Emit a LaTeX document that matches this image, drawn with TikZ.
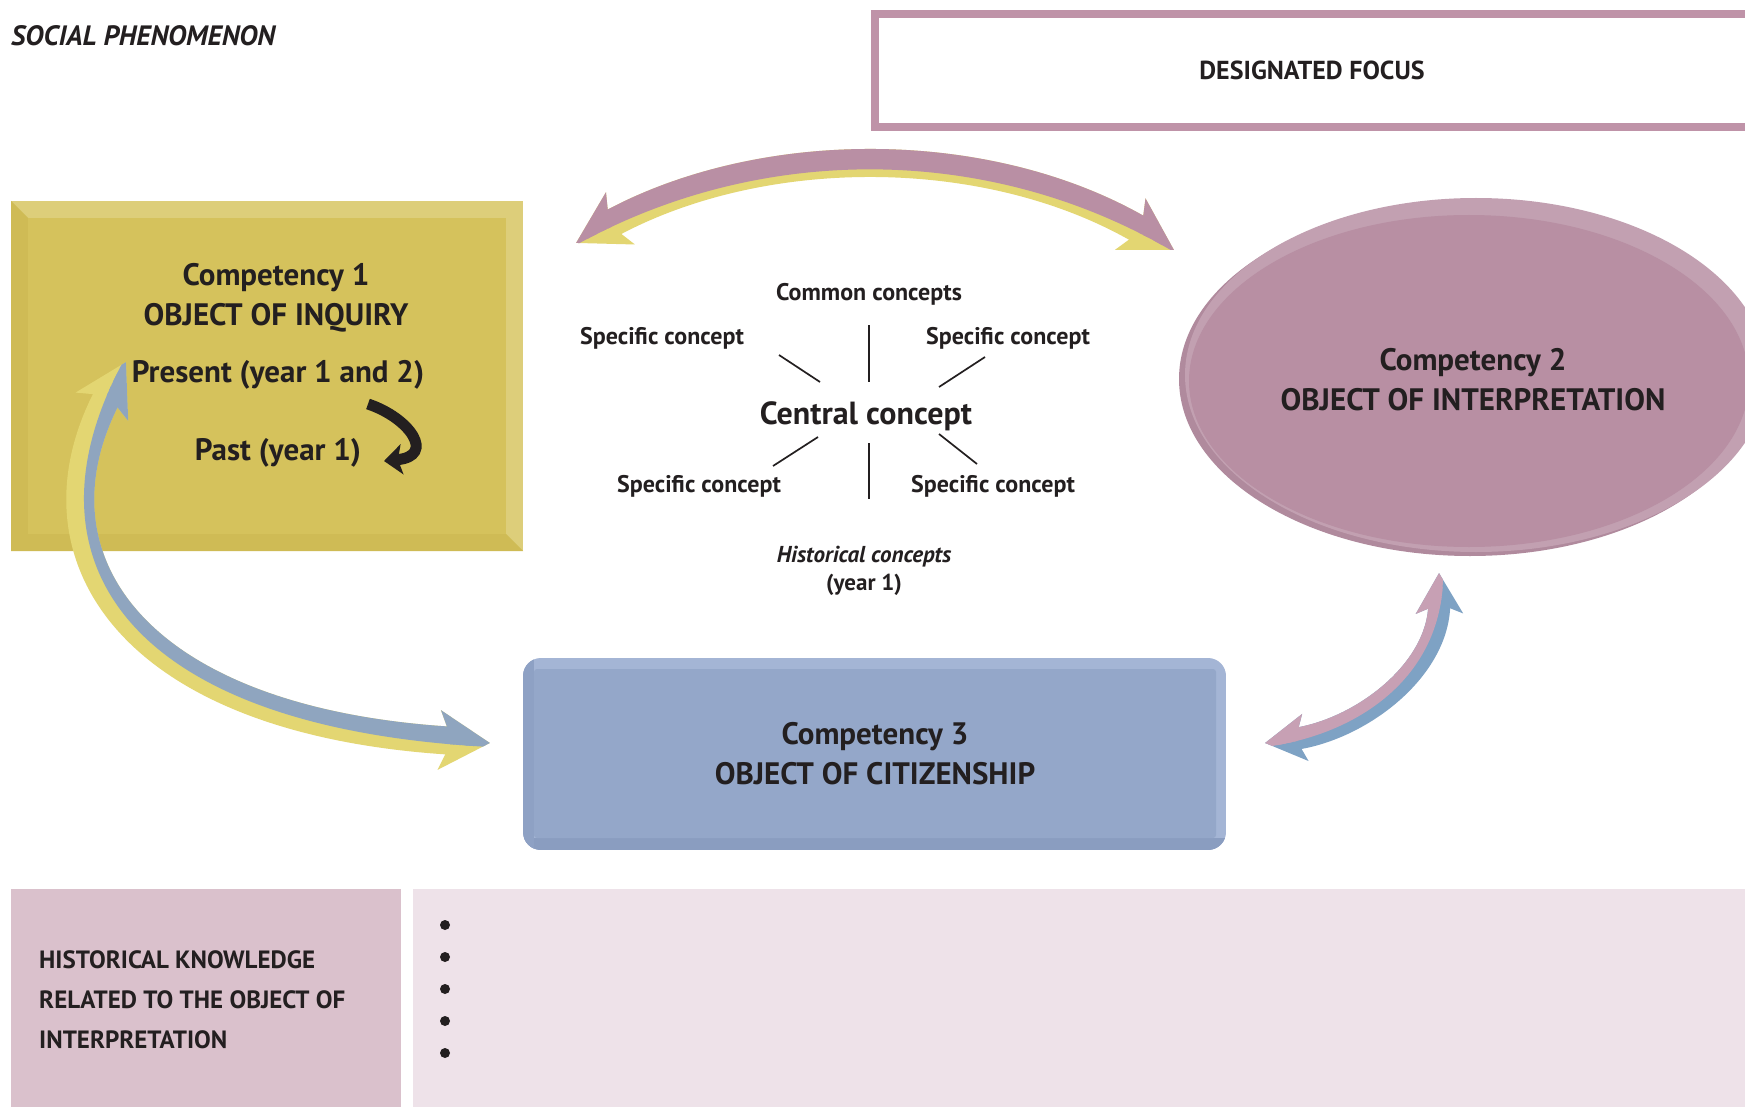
\documentclass[tikz,border=0pt]{standalone}
\usepackage{fontspec}
\setmainfont{PT Sans}
\usetikzlibrary{arrows.meta,calc}
\definecolor{ink}{HTML}{231F20}
\definecolor{yelMain}{HTML}{D5C25C}
\definecolor{yelLight}{HTML}{DDCE7A}
\definecolor{yelDark}{HTML}{CFBB55}
\definecolor{mauve}{HTML}{B88FA3}
\definecolor{mauveLight}{HTML}{C2A0B1}
\definecolor{mauveDark}{HTML}{B08A9D}
\definecolor{focusBorder}{HTML}{BF93A8}
\definecolor{bandYellow}{HTML}{E3D672}
\definecolor{bandBlue}{HTML}{8FA5BF}
\definecolor{bandBlueR}{HTML}{7EA2C4}
\definecolor{bandPink}{HTML}{C7A0B4}
\definecolor{bandMauve}{HTML}{B98FA4}
\definecolor{boxBlue}{HTML}{94A7C9}
\definecolor{boxBlueLight}{HTML}{A4B5D5}
\definecolor{boxBlueDark}{HTML}{8A9DC0}
\definecolor{panelLeft}{HTML}{DAC1CC}
\definecolor{panelRight}{HTML}{EEE2E9}
\newcommand\myfs[1]{\fontsize{#1}{#1}\selectfont\bfseries}
\tikzset{
  txt/.style={text=ink, inner sep=0pt, anchor=base},
  spoke/.style={draw=ink, line width=1.7pt},
  bigarrow/.style={line width=28pt, {Stealth[length=50pt,width=58pt,inset=12pt]}-{Stealth[length=50pt,width=58pt,inset=12pt]}},
  midarrow/.style={line width=22pt, {Stealth[length=40pt,width=46pt,inset=9pt]}-{Stealth[length=40pt,width=46pt,inset=9pt]}},
  bullet/.style={circle, fill=ink, minimum size=10pt, inner sep=0pt}
}
\begin{document}
\begin{tikzpicture}[x=1pt,y=-1pt]
\clip (0,0) rectangle (1745,1107);
\fill[white] (0,0) rectangle (1745,1107);

% ---------- designated focus box
\draw[focusBorder, line width=8pt] (875,14) rectangle (1770,127);
\node[txt, font=\myfs{26}] (focus) at (1312,80) {DESIGNATED FOCUS};

% ---------- title
\node[txt, anchor=base west, font=\myfs{28}\itshape] (title) at (11,46) {SOCIAL PHENOMENON};

% ---------- competency 1 box
\fill[yelLight] (11,201) rectangle (523,551);
\fill[yelDark] (11,201) -- (28,218) -- (28,534) -- (506,534) -- (523,551) -- (11,551) -- cycle;
\fill[yelMain] (28,218) rectangle (506,534);
\coordinate (box1) at (267,376);

% ---------- competency 2 ellipse
\fill[mauveDark] (1470,379) ellipse [x radius=291, y radius=177];
\fill[mauveLight] (1476,375) ellipse [x radius=291, y radius=177];
\fill[mauve] (1469,381) ellipse [x radius=280, y radius=166];
\coordinate (ell) at (1473,377);

% ---------- competency 3 box
\begin{scope}
\clip[rounded corners=18pt] (523,658) rectangle (1226,850);
\fill[boxBlueLight] (523,658) rectangle (1226,850);
\fill[boxBlueDark] (523,838) rectangle (1226,850);
\fill[boxBlueDark!60!boxBlue] (523,658) rectangle (534,850);
\end{scope}
\fill[boxBlue, rounded corners=3pt] (534,669) rectangle (1216,838);
\coordinate (box3) at (875,754);

% ---------- top arrow (mauve over yellow)
\coordinate (tA) at (576,243);
\coordinate (tB) at (1174,250);
\coordinate (tC1) at (760,141);
\coordinate (tC2) at (990,141);
\draw[bigarrow, bandYellow] (tA) .. controls (tC1) and (tC2) .. (tB);
\begin{scope}
\clip ($(tA)!-70pt!(tC1)+(0,2)$) -- ($(tA)+(0,2)$) .. controls ($(tC1)+(0,2)$) and ($(tC2)+(0,2)$) .. ($(tB)+(0,2)$) -- ($(tB)!-70pt!(tC2)+(0,2)$) -- (1250,90) -- (500,90) -- cycle;
\draw[bigarrow, bandMauve] (tA) .. controls (tC1) and (tC2) .. (tB);
\end{scope}

% ---------- left arrow (blue over yellow)
\coordinate (lA) at (126,362);
\coordinate (lB) at (490,743);
\coordinate (lC1) at (22,555);
\coordinate (lC2) at (130,722);
\draw[bigarrow, bandYellow] (lA) .. controls (lC1) and (lC2) .. (lB);
\begin{scope}
\clip ($(lA)!-70pt!(lC1)+(-3,0)$) -- ($(lA)+(-3,0)$) .. controls ($(lC1)+(-6,5)$) and ($(lC2)+(-4,6)$) .. ($(lB)+(0,4)$) -- ($(lB)!-70pt!(lC2)+(0,4)$) -- (620,240) -- (160,240) -- cycle;
\draw[bigarrow, bandBlue] (lA) .. controls (lC1) and (lC2) .. (lB);
\end{scope}

% ---------- right arrow (pink over blue)
\coordinate (rA) at (1265,743);
\coordinate (rB) at (1439,573);
\coordinate (rC1) at (1360,730);
\coordinate (rC2) at (1440,670);
\draw[midarrow, bandBlueR] (rA) .. controls (rC1) and (rC2) .. (rB);
\begin{scope}
\clip ($(rA)!-60pt!(rC1)+(0,4)$) -- ($(rA)+(0,4)$) .. controls ($(rC1)+(3,4)$) and ($(rC2)+(4,3)$) .. ($(rB)+(4,0)$) -- ($(rB)!-60pt!(rC2)+(4,0)$) -- (1150,500) -- (1150,760) -- cycle;
\draw[midarrow, bandPink] (rA) .. controls (rC1) and (rC2) .. (rB);
\end{scope}

% ---------- competency texts
\node[txt, font=\myfs{31}] (c1a) at (276,286) {Competency 1};
\node[txt, font=\myfs{31}] (c1b) at (276,325) {OBJECT OF INQUIRY};
\node[txt, font=\myfs{31}] (present) at (278,382) {Present (year 1 and 2)};
\node[txt, font=\myfs{31}] (past) at (278,460) {Past (year 1)};
\coordinate (bkA) at (368,404);
\coordinate (bkB) at (384,461);
\draw[ink, line width=11pt, -{Stealth[length=18pt,width=30pt,inset=4pt]}] (bkA) .. controls (410,418) and (436,456) .. (bkB);

\node[txt, font=\myfs{31}] (c2a) at (1473,370) {Competency 2};
\node[txt, font=\myfs{31}] (c2b) at (1473,410) {OBJECT OF INTERPRETATION};
\node[txt, font=\myfs{31}] (c3a) at (875,744) {Competency 3};
\node[txt, font=\myfs{31}] (c3b) at (875,784) {OBJECT OF CITIZENSHIP};

% ---------- concept cluster
\node[txt, font=\myfs{24}] (common) at (869,301) {Common concepts};
\node[txt, font=\myfs{24}] (sTL) at (662,344) {Specific concept};
\node[txt, font=\myfs{24}] (sTR) at (1008,344) {Specific concept};
\node[txt, font=\myfs{32}] (central) at (866,424) {Central concept};
\node[txt, font=\myfs{24}] (sBL) at (699,492) {Specific concept};
\node[txt, font=\myfs{24}] (sBR) at (993,492) {Specific concept};
\node[txt, font=\myfs{23}\itshape] (hist) at (864,562) {Historical concepts};
\node[txt, font=\myfs{23}] (histy) at (864,590) {(year 1)};

\coordinate (vT1) at (869,325); \coordinate (vT2) at (869,382);
\coordinate (uL1) at (779,355); \coordinate (uL2) at (820,382);
\coordinate (uR1) at (985,357); \coordinate (uR2) at (939,387);
\coordinate (dL1) at (818,437); \coordinate (dL2) at (773,466);
\coordinate (vB1) at (869,443); \coordinate (vB2) at (869,499);
\coordinate (dR1) at (939,434); \coordinate (dR2) at (977,464);
\draw[spoke] (vT1) -- (vT2);
\draw[spoke] (uL1) -- (uL2);
\draw[spoke] (uR1) -- (uR2);
\draw[spoke] (dL1) -- (dL2);
\draw[spoke] (vB1) -- (vB2);
\draw[spoke] (dR1) -- (dR2);

% ---------- bottom panels
\fill[panelLeft] (11,889) rectangle (401,1110);
\fill[panelRight] (413,889) rectangle (1750,1110);
\node[txt, anchor=base west, font=\myfs{25}] (k1) at (39,968) {HISTORICAL KNOWLEDGE};
\node[txt, anchor=base west, font=\myfs{25}] (k2) at (39,1008) {RELATED TO THE OBJECT OF};
\node[txt, anchor=base west, font=\myfs{25}] (k3) at (39,1048) {INTERPRETATION};
\node[bullet] (b1) at (445,925) {};
\node[bullet] (b2) at (445,957) {};
\node[bullet] (b3) at (445,989) {};
\node[bullet] (b4) at (445,1021) {};
\node[bullet] (b5) at (445,1053) {};
\end{tikzpicture}
\end{document}
